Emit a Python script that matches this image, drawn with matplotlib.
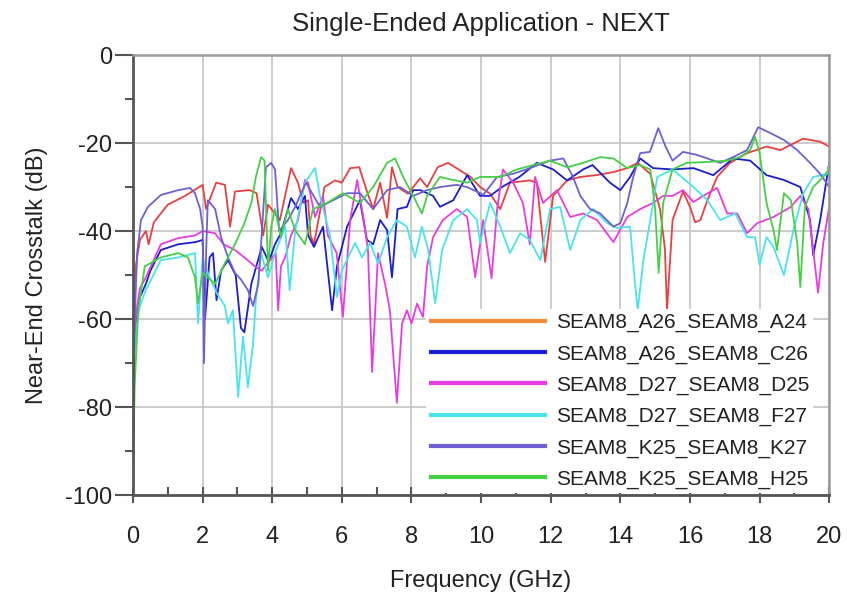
import matplotlib
matplotlib.use("Agg")
import matplotlib.pyplot as plt
from matplotlib.lines import Line2D
from matplotlib.ticker import MultipleLocator

plt.rcParams['font.family'] = ['Liberation Sans', 'DejaVu Sans']
plt.rcParams['axes.unicode_minus'] = False

# SEAM8_A26_SEAM8_A24
a24_x = [0, 0.08, 0.2, 0.37, 0.45, 0.6, 1.0, 1.5, 2.0, 2.1, 2.39, 2.64, 2.79, 2.93, 3.36, 3.55,
         3.74, 3.88, 4.22, 4.37, 4.54, 4.74, 4.89, 5.03, 5.1, 5.2, 5.5, 5.8, 6.0, 6.24, 6.5, 6.72,
         6.9, 7.1, 7.3, 7.44, 7.6, 7.9, 8.25, 8.45, 8.75, 9.05, 9.35, 9.7, 9.97, 10.26, 10.55,
         10.83, 11.4, 11.6, 11.84, 12.07, 12.47, 12.85, 13.3, 13.8, 14.2, 14.5, 14.86, 15.14,
         15.28, 15.34, 15.5, 15.8, 16.0, 16.15, 16.3, 16.5, 16.78, 17.15, 17.64, 18.2, 18.6,
         19.25, 19.74, 20.0]
a24_y = [-58, -48, -42, -40, -43, -38, -34, -32, -29.5, -35, -29, -29.5, -39, -31, -30.7, -31.4,
         -41, -34, -37.5, -32, -25.7, -29, -33.6, -33, -41, -43, -30, -28.5, -29, -25.7, -25.5, -31,
         -35, -29, -37, -25.5, -30, -31.5, -28, -30, -25.5, -24.5, -26, -27.7, -30, -31.5, -35,
         -29, -28.5, -29, -47, -32, -28.5, -27.7, -27.3, -26.6, -25.7, -24.5, -27, -35,
         -44, -58, -37.5, -31, -34.5, -38, -37.5, -33, -27.7, -24.5, -22.3, -20.8, -21.6,
         -19, -19.7, -20.8]

# SEAM8_A26_SEAM8_C26
c26_x = [0, 0.1, 0.2, 0.37, 0.5, 0.8, 1.3, 1.8, 2.0, 2.07, 2.2, 2.3, 2.4, 2.53, 2.73, 2.95, 3.1,
         3.2, 3.4, 3.7, 3.9, 4.08, 4.25, 4.54, 4.74, 4.94, 5.03, 5.2, 5.46, 5.72, 5.86, 6.15, 6.52,
         6.72, 6.9, 7.1, 7.3, 7.44, 7.6, 7.87, 8.05, 8.25, 8.62, 8.82, 9.2, 9.6, 9.97, 10.26, 10.6,
         11.1, 11.6, 12.07, 12.47, 12.93, 13.2, 13.7, 14.0, 14.28, 14.57, 14.94, 15.5, 16.1, 16.67,
         17.24, 17.73, 18.2, 18.7, 19.17, 19.45, 19.54, 19.74, 20.0]
c26_y = [-70, -60, -55, -52, -49, -44.3, -43, -42.5, -42, -60, -46, -45, -55.7, -49, -46.6, -50, -62,
         -63, -52, -43.6, -47, -43, -40.5, -32.5, -35, -32, -41, -43.6, -39, -58, -48, -39, -33,
         -42, -43, -37.5, -39.8, -50.5, -35, -34.5, -30.7, -30.7, -32, -34.5, -33, -27.3, -32, -32, -30,
         -27.7, -24.5, -26, -28.5, -26, -25, -29, -30.7, -27.7, -23.5, -25.7, -26, -25.7, -27.3,
         -23.5, -24, -27.3, -28.4, -30, -37.5, -45.5, -37.5, -24.5]

# SEAM8_D27_SEAM8_D25
d25_x = [0, 0.1, 0.2, 0.37, 0.8, 1.3, 1.78, 2.0, 2.36, 2.6, 2.93, 3.2, 3.5, 3.7, 4.0, 4.1, 4.17,
         4.25, 4.37, 4.54, 4.74, 4.94, 5.03, 5.23, 5.46, 5.6, 5.85, 6.03, 6.24, 6.44, 6.6, 6.75,
         6.87, 7.04, 7.24, 7.38, 7.58, 7.73, 7.87, 8.0, 8.16, 8.33, 8.45, 8.62, 8.9, 9.3, 9.6, 9.83,
         9.97, 10.06, 10.3, 10.46, 10.63, 10.92, 11.2, 11.4, 11.55, 11.78, 12.18, 12.56, 12.93,
         13.33, 13.8, 14.2, 14.57, 14.94, 15.23, 15.5, 15.8, 16.1, 16.38, 16.78, 17.07, 17.36,
         17.64, 17.93, 18.4, 18.9, 19.17, 19.4, 19.54, 19.68, 19.83, 20.0]
d25_y = [-68, -58, -53, -50.5, -43, -41.6, -41, -40, -40.5, -43, -44.3, -46, -48, -49, -46, -45, -58,
         -48, -46, -41, -37.5, -28.4, -29, -36.8, -32, -41, -45, -59.5, -37.5, -28.4, -36, -44.3,
         -72, -45, -52, -58, -79, -61, -58, -61, -56.5, -59.5, -48, -41.4, -37.5, -35, -36.8, -50.5,
         -43, -37.5, -50.7, -35, -26, -29, -33.6, -43, -27.7, -33.6, -30.7, -36.8, -36,
         -37.5, -42.5, -36.8, -35, -33.6, -32, -32, -30.7, -33.4, -32, -30.2, -36, -36,
         -40.5, -38.2, -36.8, -34.5, -32, -35, -44.3, -54, -42.7, -34.5]

# SEAM8_D27_SEAM8_F27
f27_x = [0, 0.1, 0.2, 0.37, 0.8, 1.3, 1.78, 1.87, 2.0, 2.15, 2.4, 2.64, 2.73, 2.87, 3.02, 3.16, 3.3,
         3.45, 3.53, 3.68, 3.88, 4.08, 4.37, 4.5, 4.66, 4.94, 5.23, 5.37, 5.66, 5.86, 6.0, 6.18, 6.38,
         6.58, 6.81, 7.04, 7.3, 7.58, 7.87, 8.1, 8.3, 8.48, 8.68, 8.88, 9.2, 9.6, 9.88, 9.97, 10.26,
         10.55, 10.83, 11.12, 11.4, 11.7, 11.98, 12.27, 12.56, 12.85, 13.22, 13.62, 13.9, 14.28,
         14.42, 14.5, 14.66, 14.86, 15.06, 15.5, 16.1, 16.5, 16.87, 17.3, 17.64, 17.87, 18.0, 18.2,
         18.4, 18.7, 18.97, 19.25, 19.54, 19.94, 20.0]
f27_y = [-72, -62, -57, -53.4, -46.6, -46, -45, -61, -46, -49.5, -54, -57, -61, -58, -77.7, -64, -75.5,
         -65.5, -55.7, -45, -50.5, -45, -39, -53.4, -39.8, -29, -25.7, -32, -41, -55, -49, -46, -42.7,
         -46, -42.7, -47.3, -41.4, -37.5, -39, -46, -39, -44.3, -56.4, -44.3, -37.5, -35, -37.5, -42.7, -33.6,
         -39, -45, -40.5, -42, -46.6, -35, -34.5, -44.3, -37.5, -35, -38.2, -39.3, -39,
         -51.8, -58, -46.6, -37.5, -27.7, -26, -30, -33, -37.5, -36, -41.4, -41.4, -47.7, -41.4,
         -43.6, -50, -39.8, -31.5, -27.7, -27, -25]

# SEAM8_K25_SEAM8_K27
k27_x = [0, 0.05, 0.12, 0.23, 0.43, 0.8, 1.3, 1.64, 1.78, 1.93, 2.0, 2.04, 2.1, 2.15, 2.36, 2.53,
         2.73, 2.93, 3.1, 3.3, 3.45, 3.6, 3.68, 3.82, 3.97, 4.08, 4.2, 4.45, 4.66, 4.83, 4.97, 5.37,
         5.75, 6.15, 6.52, 6.9, 7.3, 7.67, 8.05, 8.45, 8.82, 9.3, 9.6, 9.97, 10.06, 10.46, 10.92,
         11.4, 11.98, 12.36, 12.64, 12.85, 13.13, 13.42, 13.8, 14.0, 14.2, 14.37, 14.57, 14.85,
         15.09, 15.3, 15.5, 15.8, 16.2, 16.5, 16.87, 17.24, 17.64, 17.96, 18.3, 18.7, 19.08, 19.45,
         19.74, 20.0]
k27_y = [-90, -60, -45, -37.5, -34.5, -31.8, -30.7, -30.2, -31.4, -35, -39, -70, -45, -33, -35, -41.4,
         -46, -49.5, -51, -53.4, -57, -52, -43, -25.5, -24.5, -26, -40, -37.5, -34.5, -31.4, -29, -34.5,
         -33, -31.4, -31.4, -35, -30.7, -30, -32, -30.7, -30, -29.5, -30, -31.4, -31.8, -27.7, -27,
         -25.7, -24, -23.5, -27.7, -32, -35, -36, -39, -38.2, -33.6, -27.7, -22.3, -22,
         -16.6, -20.8, -24, -22, -22.7, -23.5, -24.5, -23.2, -21.6, -16.4, -17.7, -19.3, -21.6, -24.5,
         -27, -30]

# SEAM8_K25_SEAM8_H25
h25_x = [0, 0.05, 0.15, 0.34, 0.8, 1.3, 1.58, 1.78, 1.87, 2.0, 2.36, 2.64, 2.93, 3.2, 3.4, 3.53,
         3.68, 3.78, 3.88, 3.97, 4.08, 4.25, 4.45, 4.66, 4.94, 5.17, 5.57, 6.03, 6.52, 6.9, 7.3, 7.53,
         7.76, 8.05, 8.3, 8.45, 8.82, 9.2, 9.6, 9.97, 10.55, 11.03, 11.5, 11.98, 12.47, 12.93, 13.42,
         13.8, 14.2, 14.57, 14.86, 15.0, 15.1, 15.23, 15.5, 15.9, 16.5, 17.07, 17.44, 17.73, 17.87,
         18.0, 18.2, 18.4, 18.5, 18.7, 18.9, 19.08, 19.17, 19.3, 19.54, 19.83, 20.0]
h25_y = [-95, -75, -58, -48, -46, -45, -46, -50.5, -56.4, -49.5, -52, -47.3, -43, -38.2, -33.6, -27.7,
         -23.2, -24, -49, -39, -35, -41.4, -35, -39.8, -43, -35, -33.6, -31.4, -33.6, -30, -24.5, -23.5,
         -27.7, -32, -36, -32, -27.7, -28.4, -29, -27.7, -27.7, -26, -25, -24, -25.5, -24.5, -23.2,
         -23.5, -25.7, -25, -26, -35, -49.5, -33.6, -26, -24.5, -24.3, -24, -23.2, -21.6, -18.6,
         -22.3, -33.6, -39.8, -44.3, -31.4, -33, -42.7, -52.7, -34.5, -30, -27.7, -26]

labels = ['SEAM8_A26_SEAM8_A24', 'SEAM8_A26_SEAM8_C26', 'SEAM8_D27_SEAM8_D25',
          'SEAM8_D27_SEAM8_F27', 'SEAM8_K25_SEAM8_K27', 'SEAM8_K25_SEAM8_H25']
series = [(a24_x, a24_y), (c26_x, c26_y), (d25_x, d25_y),
          (f27_x, f27_y), (k27_x, k27_y), (h25_x, h25_y)]
line_colors = ['#e84040', '#1c1cd0', '#e83ce0', '#48e4ee', '#6e60d4', '#44d044']
legend_colors = ['#f08a3c', '#1c1cd0', '#e83ce0', '#48e4ee', '#6e60d4', '#44d044']

fig = plt.figure(figsize=(8.47, 5.98), dpi=100)
ax = fig.add_axes([0.157, 0.172, 0.822, 0.736])

for (x, y), c in zip(series, line_colors):
    ax.plot(x, y, color=c, lw=1.3)

ax.set_xlim(0, 20)
ax.set_ylim(-100, 0)
ax.xaxis.set_major_locator(MultipleLocator(2))
ax.xaxis.set_minor_locator(MultipleLocator(1))
ax.yaxis.set_major_locator(MultipleLocator(20))
ax.yaxis.set_minor_locator(MultipleLocator(10))
ax.grid(True, which='major', color='#c8c8c8', lw=1.3)
ax.set_axisbelow(True)

ax.tick_params(axis='x', which='major', direction='inout', length=12, width=1.5,
               color='#555555', pad=16, labelsize=17, labelcolor='#222222')
ax.tick_params(axis='x', which='minor', direction='in', length=6, width=1.5, color='#555555')
ax.tick_params(axis='y', which='major', direction='out', length=13, width=1.5,
               color='#555555', pad=2, labelsize=17, labelcolor='#222222')
ax.tick_params(axis='y', which='minor', direction='out', length=6, width=1.5, color='#555555')

for side in ['left', 'bottom']:
    ax.spines[side].set_color('#555555')
    ax.spines[side].set_linewidth(2)
for side in ['top', 'right']:
    ax.spines[side].set_color('#9a9a9a')
    ax.spines[side].set_linewidth(1.8)

ax.set_title('Single-Ended Application - NEXT', fontsize=18.5, color='#222222', pad=17)
ax.set_xlabel('Frequency (GHz)', fontsize=17, color='#222222', labelpad=16)
ax.set_ylabel('Near-End Crosstalk (dB)', fontsize=17, color='#222222', labelpad=12)

handles = [Line2D([0], [0], color=c, lw=3) for c in legend_colors]
leg = ax.legend(handles, labels, loc='lower right', bbox_to_anchor=(0.98, 0), borderaxespad=0.1,
                borderpad=0.2, fontsize=15, handlelength=5.5, handletextpad=0.5, labelspacing=0.58,
                frameon=True, fancybox=False, framealpha=1, edgecolor='none', facecolor='white')
for t in leg.get_texts():
    t.set_color('#222222')

fig.savefig('out.png', dpi=100)
